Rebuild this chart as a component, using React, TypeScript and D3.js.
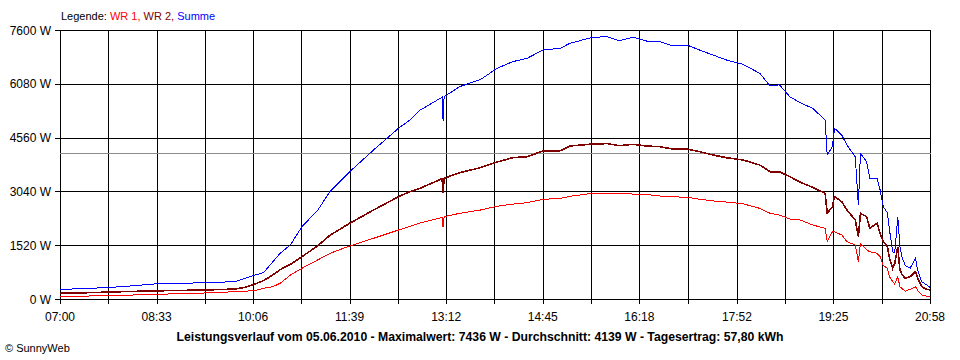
import React, { useEffect } from "react";
import * as d3 from "d3";

// Messzeitpunkte (hh:mm) und Leistungen in W
const times = [
  "07:00", "07:29", "08:00", "08:31", "09:20", "09:49", "09:58", "10:08", "10:16", "10:25",
  "10:32", "10:42", "10:53", "11:08", "11:20", "11:39", "12:02", "12:26", "12:37", "12:47",
  "13:08", "13:09", "13:10", "13:25", "13:45", "14:01", "14:16", "14:30", "14:45", "15:02",
  "15:11", "15:33", "15:47", "15:59", "16:12", "16:25", "16:38", "16:50", "17:04", "17:16",
  "17:29", "17:42", "17:58", "18:14", "18:24", "18:33", "18:43", "18:53", "19:05", "19:17",
  "19:19", "19:24", "19:26", "19:33", "19:38", "19:46", "19:49", "19:51", "19:57", "20:00",
  "20:07", "20:10", "20:13", "20:17", "20:19", "20:22", "20:24", "20:27", "20:29", "20:31",
  "20:34", "20:39", "20:44", "20:46", "20:50", "20:55", "20:58",
];

const wr1 = [
  66, 85, 104, 130, 170, 207, 220, 240, 301, 348,
  443, 678, 867, 1100, 1291, 1497, 1714, 1949, 2050, 2150,
  2300, 2025, 2325, 2421, 2514, 2620, 2680, 2721, 2815, 2843,
  2900, 2986, 2990, 2970, 2966, 2950, 2910, 2890, 2872, 2820,
  2770, 2740, 2690, 2561, 2420, 2373, 2260, 2232, 2091, 1997,
  1620, 1902, 1900, 1808, 1620, 1526, 1054, 1573, 1384, 1337,
  1290, 1200, 950, 867, 630, 500, 424, 630, 348, 300,
  220, 273, 348, 250, 113, 80, 66,
];

const wr2 = [
  160, 180, 207, 230, 254, 282, 330, 424, 520, 678,
  830, 980, 1195, 1497, 1800, 2138, 2514, 2890, 3031, 3130,
  3400, 2990, 3410, 3569, 3710, 3870, 3992, 4020, 4181, 4190,
  4322, 4379, 4390, 4331, 4370, 4322, 4303, 4237, 4237, 4162,
  4068, 3992, 3927, 3785, 3596, 3596, 3455, 3300, 3155, 2986,
  2421, 2608, 2890, 2749, 2514, 2232, 1760, 2421, 2325, 1997,
  2138, 1856, 1620, 1478, 1150, 867, 1000, 1478, 819, 700,
  584, 630, 772, 600, 348, 273, 254,
];

const summe = [
  270, 300, 348, 424, 461, 490, 584, 678, 744, 1050,
  1290, 1530, 2043, 2500, 3031, 3596, 4209, 4822, 5057, 5339,
  5700, 5037, 5715, 6000, 6200, 6517, 6705, 6800, 7034, 7082,
  7223, 7393, 7411, 7297, 7393, 7289, 7269, 7156, 7175, 7034,
  6893, 6752, 6630, 6376, 6020, 6050, 5715, 5546, 5387, 5057,
  4068, 4303, 4822, 4633, 4350, 4020, 2655, 4115, 3878, 3410,
  3410, 3079, 2608, 2430, 1950, 1337, 1300, 2325, 1478, 1195,
  950, 876, 1158, 819, 490, 396, 330,
];

const xTickLabels = ["07:00", "08:33", "10:06", "11:39", "13:12", "14:45", "16:18", "17:52", "19:25", "20:58"];
const yTicks = [0, 1520, 3040, 4560, 6080, 7600];
const average = 4139;
const title =
  "Leistungsverlauf vom 05.06.2010 - Maximalwert: 7436 W - Durchschnitt: 4139 W - Tagesertrag: 57,80 kWh";

const series = [
  { name: "WR 1", values: wr1, color: "#ff0000", width: 1 },
  { name: "WR 2", values: wr2, color: "#800000", width: 1.6 },
  { name: "Summe", values: summe, color: "#0000ff", width: 1 },
];

const font = "'Liberation Sans', Arial, sans-serif";

const App = () => {
  useEffect(() => {
    document.body.style.margin = "0";
  }, []);

  const width = 960;
  const height = 360;
  const left = 60;
  const right = 930;
  const top = 30;
  const bottom = 299;

  const parse = d3.timeParse("%H:%M");
  const x = d3
    .scaleTime()
    .domain([parse("07:00")!, parse("20:58")!])
    .range([left, right]);
  const y = d3.scaleLinear().domain([0, 7600]).range([bottom, top]);

  // Gitter: beschriftete Ticks und Zwischenlinien in der Mitte
  const majorX = xTickLabels.map((t) => x(parse(t)!));
  const gridX: number[] = [];
  majorX.forEach((px, i) => {
    gridX.push(px);
    if (i < majorX.length - 1) gridX.push((px + majorX[i + 1]) / 2);
  });

  const line = d3
    .line<number>()
    .x((_, i) => x(parse(times[i])!))
    .y((d) => y(d));

  const snap = (v: number) => Math.round(v) + 0.5;

  return (
    <svg
      width={width}
      height={height}
      style={{ display: "block", background: "#fff", fontFamily: font }}
    >
      <text x={61} y={20} fontSize={11}>
        <tspan fill="#000">Legende: </tspan>
        <tspan fill="#ff0000">WR 1, </tspan>
        <tspan fill="#800000">WR 2, </tspan>
        <tspan fill="#0000ff">Summe</tspan>
      </text>

      <g shapeRendering="crispEdges" stroke="#000" strokeWidth={1}>
        {yTicks.map((v) => (
          <line key={"h" + v} x1={left - 5} x2={right + 1} y1={snap(y(v))} y2={snap(y(v))} />
        ))}
        {gridX.map((px, i) => (
          <line key={"v" + i} x1={snap(px)} x2={snap(px)} y1={top} y2={bottom + 5} />
        ))}
        <line
          x1={left}
          x2={right + 1}
          y1={snap(y(average))}
          y2={snap(y(average))}
          stroke="#8c8c8c"
        />
      </g>

      <g fontSize={12} fill="#000">
        {yTicks.map((v) => (
          <text key={"yl" + v} x={51} y={y(v) + 4.5} textAnchor="end">
            {v} W
          </text>
        ))}
        {xTickLabels.map((t, i) => (
          <text key={"xl" + t} x={majorX[i]} y={321} textAnchor="middle">
            {t}
          </text>
        ))}
      </g>

      <g fill="none" strokeLinejoin="miter" shapeRendering="crispEdges">
        {series.map((s) => (
          <path key={s.name} d={line(s.values) ?? ""} stroke={s.color} strokeWidth={s.width} />
        ))}
      </g>

      <text
        x={480}
        y={341}
        fontSize={12}
        fontWeight="bold"
        textAnchor="middle"
        textLength={607}
        lengthAdjust="spacingAndGlyphs"
      >
        {title}
      </text>
      <text x={5} y={352} fontSize={11}>
        © SunnyWeb
      </text>
    </svg>
  );
};

export default App;
